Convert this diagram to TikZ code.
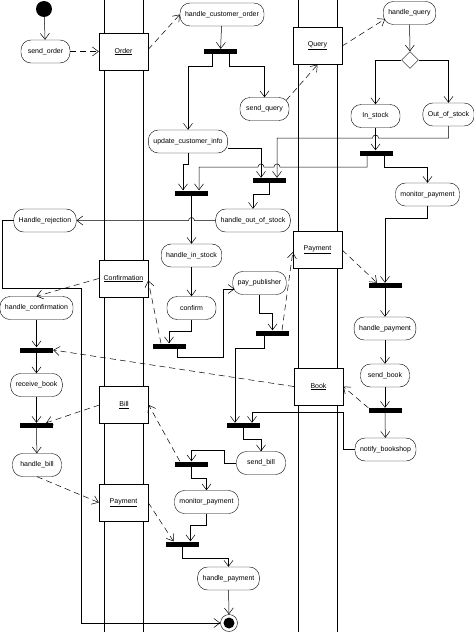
\documentclass[tikz,border=0pt]{standalone}
\usepackage{fontspec}
\setmainfont{Liberation Sans}
\usetikzlibrary{arrows.meta,shapes.geometric}
\begin{document}
\begin{tikzpicture}[x=1pt,y=-1pt,
  font=\fontsize{7}{8}\selectfont,
  act/.style={draw,fill=white,rounded corners=10pt,minimum width=49pt,minimum height=23pt,inner xsep=5pt},
  obj/.style={draw,fill=white,minimum width=49pt,minimum height=37pt},
  bar/.style={fill=black,minimum width=33pt,minimum height=5pt,inner sep=0pt},
  lane/.style={line width=0.8pt},
  flow/.style={line width=0.5pt,-{Straight Barb[length=6pt,width=9pt]}},
  objflow/.style={flow,dash pattern=on 6pt off 4pt}]
\useasboundingbox (0,0) rectangle (474,632);

\draw[lane] (104,0) -- (104,632);
\draw[lane] (143,0) -- (143,632);
\draw[lane] (298,0) -- (298,632);
\draw[lane] (337,0) -- (337,632);

\node[circle,fill=black,minimum size=16pt,inner sep=0pt] (start) at (44,9) {};
\node[act] (so) at (45.5,51.5) {send\_order};
\node[act] (hco) at (222,14.5) {handle\_customer\_order};
\node[bar] (b1) at (220.5,51.5) {};
\node[act] (sq) at (264.5,109) {send\_query};
\node[act] (uci) at (188,141.5) {update\_customer\_info};
\node[act] (hq) at (409.5,13) {handle\_query};
\node[draw,diamond,fill=white,minimum size=17pt,inner sep=0pt] (dec) at (410,60) {};
\node[act] (ins) at (375.5,116) {In\_stock};
\node[act] (oos) at (448.5,114.5) {Out\_of\_stock};
\node[bar] (b2) at (376,153) {};
\node[act] (mp1) at (427.5,194.5) {monitor\_payment};
\node[bar] (b3) at (191.5,193) {};
\node[bar] (b4) at (269,180.5) {};
\node[act] (hoos) at (253,220.5) {handle\_out\_of\_stock};
\node[act] (hrej) at (45,220.5) {Handle\_rejection};
\node[act] (his) at (191.5,255.5) {handle\_in\_stock};
\node[act] (conf) at (191.5,308) {confirm};
\node[act] (pp) at (259.5,283) {pay\_publisher};
\node[bar] (b5) at (169,346) {};
\node[bar] (b6) at (272.5,333) {};
\node[bar] (b7) at (385,285.5) {};
\node[act] (hp1) at (385,328.5) {handle\_payment};
\node[act] (sb) at (385,375.5) {send\_book};
\node[bar] (b8) at (385,410.5) {};
\node[act] (nb) at (385.5,449.5) {notify\_bookshop};
\node[act] (hc) at (36.5,308) {handle\_confirmation};
\node[bar] (b9) at (36.5,350) {};
\node[act] (rb) at (36.5,385) {receive\_book};
\node[bar] (b10) at (36.5,425.5) {};
\node[act] (hb) at (37,465) {handle\_bill};
\node[bar] (b11) at (243.5,425.5) {};
\node[act] (sbill) at (261,463) {send\_bill};
\node[bar] (b12) at (191.5,464) {};
\node[act] (mp2) at (206.5,502) {monitor\_payment};
\node[bar] (b13) at (182.5,544) {};
\node[act] (hp2) at (228.5,578.5) {handle\_payment};
\node[circle,draw,minimum size=17pt,inner sep=0pt] (stop) at (229,623) {};
\fill (stop) circle[radius=5.5pt];

\node[obj] (order) at (123.5,51.5) {\underline{Order}};
\node[obj] (query) at (317.5,46) {\underline{Query}};
\node[obj] (confbox) at (123.5,278.5) {\underline{Confirmation}};
\node[obj] (pay1) at (317.5,250) {\underline{Payment}};
\node[obj] (bill) at (124,405) {\underline{Bill}};
\node[obj] (book) at (318.5,386.5) {\underline{Book}};
\node[obj] (pay2) at (123.5,502.5) {\underline{Payment}};

\draw[flow] (start) -- (so);
\draw[objflow] (so) -- (order);
\draw[objflow] ([yshift=2pt]order.east) -- (hco.west);
\draw[flow] (hco) -- (b1);
\draw[flow] ([xshift=-8.5pt]b1.south) -- ++(0,12) -| (uci);
\draw[flow] ([xshift=8.5pt]b1.south) -- ++(0,12) -| (sq);
\draw[objflow] ([xshift=-3pt,yshift=-3pt]sq.north east) -- (query.south);
\draw[objflow] (query.east) -- ([xshift=2pt,yshift=-6pt]hq.west);
\draw[flow] (hq) -- (dec);
\draw[flow] (dec.west) -| (ins);
\draw[flow] (dec.east) -| (oos);
\draw[flow] (ins) -- (ins |- b2.north);
\draw[flow] (oos.south) -- (oos.south |- 0,138) -- (378.5,138)
  arc[start angle=0,end angle=180,radius=3pt] -- (277,138) -- (b4.north -| 277,0);
\draw[flow] (uci.south) -- ++(0,11) -| ([xshift=-8.5pt]b3.north);
\draw[flow] ([yshift=-7pt]uci.east) -| ([xshift=-8pt]b4.north);
\draw[flow] ([xshift=-9pt]b2.south) |- (280,167)
  arc[start angle=0,end angle=180,radius=3pt] -- (264,167)
  arc[start angle=0,end angle=180,radius=3pt] -- (199,167) -- (b3.north -| 199,0);
\draw[flow] ([xshift=8pt]b2.south) -- ++(0,11.5) -| (mp1);
\draw[flow] (b4.south) -- ++(0,11) -| (hoos);
\draw[flow] (hoos.west) -- (194.5,220.5)
  arc[start angle=0,end angle=180,radius=3pt] -- (hrej.east);
\draw[flow] (b3) -- (his);
\draw[flow] (his) -- (conf);
\draw[flow] (conf.south) -- ++(0,12) -| (b5.north);
\draw[objflow] ([xshift=-8pt]b5.north) -- ([yshift=-2pt]confbox.east);
\draw[objflow] (confbox.west) -- (hc.north);
\draw[flow] ([xshift=8pt]b5.south) -- ++(0,9) -| (223,289) -- ([xshift=2pt,yshift=-6pt]pp.west);
\draw[flow] (pp.south) -- ++(0,18.5) -| (b6.north);
\draw[objflow] ([xshift=9.5pt]b6.north) -- ([yshift=-2pt]pay1.west);
\draw[objflow] (pay1.east) -- ([xshift=-8pt]b7.north);
\draw[flow] (mp1.south) -- ++(0,12) -| (b7.north);
\draw[flow] (b7) -- (hp1);
\draw[flow] (hp1) -- (sb);
\draw[flow] (sb) -- (b8);
\draw[objflow] (b8.north west) -- (book.east);
\draw[flow] (b8) -- (nb);
\draw[flow] (nb.west) -| (343,412) -| ([xshift=8.5pt]b11.north);
\draw[flow] ([xshift=-8.5pt]b6.south) -- ++(0,12.5) -| ([xshift=-8.5pt]b11.north);
\draw[objflow] (book.west) -- (b9.east);
\draw[flow] (hc) -- (b9);
\draw[flow] (b9) -- (rb);
\draw[flow] (rb) -- (b10);
\draw[objflow] (bill.west) -- ([xshift=-7pt]b10.north east);
\draw[flow] (b10) -- (hb);
\draw[objflow] (hb.south) -- (pay2.west);
\draw[flow] (b11.south) -- ++(0,11) -| (sbill);
\draw[flow] (sbill.west) -| (224,450) -| (b12.north);
\draw[objflow] ([xshift=5pt]b12.north west) -- (bill.east);
\draw[flow] (b12.south) -- ++(0,12) -| (mp2);
\draw[objflow] (pay2.east) -- ([xshift=-9pt]b13.north);
\draw[flow] (mp2.south) -- ++(0,12) -| ([xshift=8pt]b13.north);
\draw[flow] (b13.south) -- ++(0,12) -| (hp2);
\draw[flow] (hp2) -- (stop);
\draw[flow] (hrej.west) -| (2,288) -| (81,623) -- (stop);
\end{tikzpicture}
\end{document}
